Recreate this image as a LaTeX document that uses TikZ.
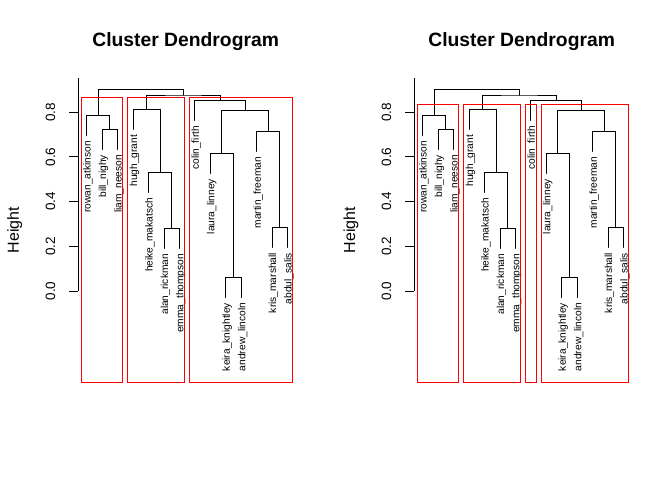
\documentclass[tikz,border=0pt]{standalone}
\usepackage{fontspec}
\setmainfont{Liberation Sans}
\begin{document}
\begin{tikzpicture}[x=1pt,y=-1pt,
  dlink/.style={draw=black, line width=1pt, line cap=round},
  cutbox/.style={draw=red, line width=1pt},
  axline/.style={draw=black, line width=1pt},
  leaflab/.style={rotate=90, anchor=base east, inner sep=0pt, font=\fontsize{10.2}{12}\selectfont},
  ticklab/.style={rotate=90, anchor=base, inner sep=0pt, font=\fontsize{13.5}{16}\selectfont},
  ylabstyle/.style={rotate=90, anchor=base, inner sep=0pt, font=\fontsize{16}{19}\selectfont},
  plottitle/.style={anchor=base, inner sep=0pt, font=\fontsize{19.3}{23}\selectfont\bfseries}]
\useasboundingbox (0,0) rectangle (672,480);
\fill[white] (0,0) rectangle (672,480);

\foreach \p/\dx in {L/0, R/336} {
\begin{scope}[xshift=\dx pt]
  % title and axis label
  \node[plottitle] (\p-title) at (185.7,46.3) {Cluster Dendrogram};
  \node[ylabstyle] (\p-ylab) at (19,230.3) {Height};
  % axis
  \coordinate (\p-ax0) at (78.3,291);
  \coordinate (\p-ax1) at (78.3,78.3);
  \draw[axline] (\p-ax0) -- (\p-ax1);
  \foreach \k/\v/\y in {0/0.0/291, 1/0.2/246.3, 2/0.4/201.6, 3/0.6/156.9, 4/0.8/112.2} {
    \coordinate (\p-t\k) at (69.3,\y);
    \coordinate (\p-te\k) at (78.3,\y);
    \draw[axline] (\p-t\k) -- (\p-te\k);
    \node[ticklab] (\p-tl\k) at (55,\y) {\v};
  }
  % leaves
  \foreach \i/\b/\name in {1/135.3/rowan\_atkinson, 2/149.3/bill\_nighy, 3/149.3/liam\_neeson,
      4/129.3/hugh\_grant, 5/192.3/heike\_makatsch, 6/248.3/alan\_rickman, 7/248.3/emma\_thompson,
      8/120.3/colin\_firth, 9/173.3/laura\_linney, 10/297.3/keira\_knightley, 11/297.3/andrew\_lincoln,
      12/151.3/martin\_freeman, 13/247.3/kris\_marshall, 14/247.3/abdul\_salis} {
    \coordinate (\p-l\i) at ({86.7+15.46*(\i-1)},\b);
    \node[leaflab] (\p-lab\i) at ({86.7+15.46*(\i-1)+4},{\b+5.5}) {\name};
  }
  % merges
  \coordinate (\p-m1) at (109.89,129.3);
  \coordinate (\p-m2) at (98.295,115.3);
  \coordinate (\p-m3) at (171.73,228.3);
  \coordinate (\p-m4) at (160.135,172.3);
  \coordinate (\p-m5) at (146.61,109.3);
  \coordinate (\p-m6) at (233.57,277.3);
  \coordinate (\p-m7) at (221.975,153.3);
  \coordinate (\p-m8) at (279.95,227.3);
  \coordinate (\p-m9) at (268.355,131.3);
  \coordinate (\p-m10) at (245.165,110.3);
  \coordinate (\p-m11) at (220.04,100.3);
  \coordinate (\p-m12) at (183.325,95);
  \coordinate (\p-m13) at (140.81,89.3);
  \foreach \m/\a/\c in {m1/l2/l3, m2/l1/m1, m3/l6/l7, m4/l5/m3, m5/l4/m4, m6/l10/l11,
      m7/l9/m6, m8/l13/l14, m9/l12/m8, m10/m7/m9, m11/l8/m10, m12/m5/m11, m13/m2/m12} {
    \draw[dlink] (\p-\a) |- (\p-\m) -| (\p-\c);
  }
\end{scope}
}

% cut boxes, left (k = 3)
\coordinate (LB1a) at (81.4,97.65);  \coordinate (LB1b) at (122.7,382.3);
\coordinate (LB2a) at (127.8,97.65); \coordinate (LB2b) at (184.6,382.3);
\coordinate (LB3a) at (189.7,97.65); \coordinate (LB3b) at (292.8,382.3);
\draw[cutbox] (LB1a) rectangle (LB1b);
\draw[cutbox] (LB2a) rectangle (LB2b);
\draw[cutbox] (LB3a) rectangle (LB3b);

% cut boxes, right (k = 4)
\coordinate (RB1a) at (417.4,104.8); \coordinate (RB1b) at (458.7,382.3);
\coordinate (RB2a) at (463.8,104.8); \coordinate (RB2b) at (520.6,382.3);
\coordinate (RB3a) at (525.7,104.8); \coordinate (RB3b) at (536.0,382.3);
\coordinate (RB4a) at (541.1,104.8); \coordinate (RB4b) at (628.8,382.3);
\draw[cutbox] (RB1a) rectangle (RB1b);
\draw[cutbox] (RB2a) rectangle (RB2b);
\draw[cutbox] (RB3a) rectangle (RB3b);
\draw[cutbox] (RB4a) rectangle (RB4b);
\end{tikzpicture}
\end{document}
